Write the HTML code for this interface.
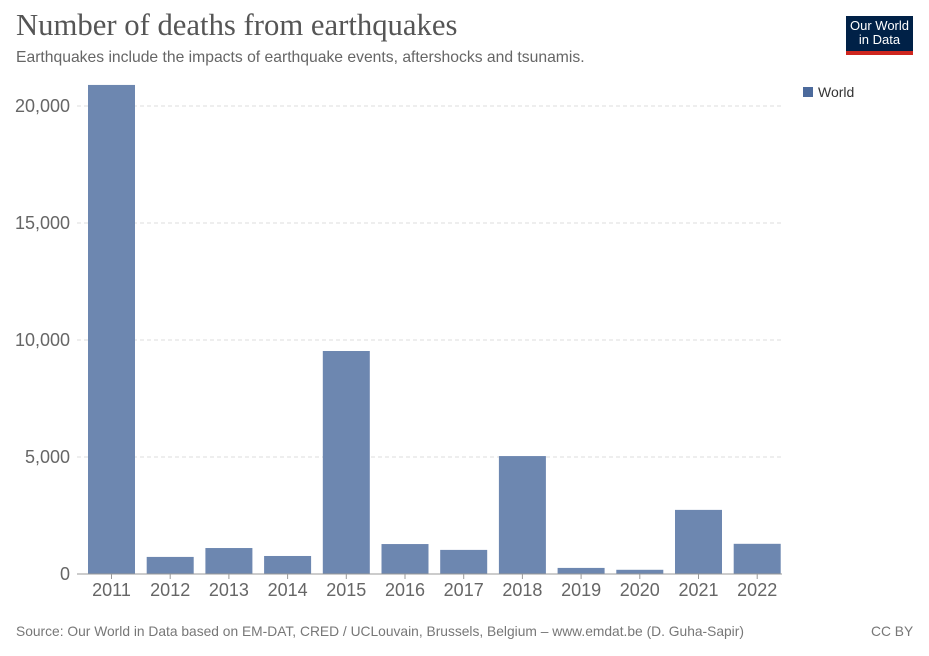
<!DOCTYPE html>
<html><head><meta charset="utf-8"><style>
body{margin:0;width:929px;height:656px;background:#fff;font-family:"Liberation Sans",sans-serif;overflow:hidden;position:relative}
.t{position:absolute;white-space:nowrap}
</style></head><body>
<div class="t" style="left:16px;top:8px;font-family:'Liberation Serif',serif;font-size:30.7px;color:#555">Number of deaths from earthquakes</div>
<div class="t" style="left:16px;top:49px;font-size:15.7px;color:#666">Earthquakes include the impacts of earthquake events, aftershocks and tsunamis.</div>
<div class="t" style="left:846px;top:16px;width:67px;height:39px;background:#002147;color:#fff;font-size:13px;line-height:14px;text-align:center;box-sizing:border-box;padding-top:3px;border-bottom:4px solid #ce261e">Our World<br>in Data</div>
<div class="t" style="left:16px;top:624px;font-size:13.8px;color:#777">Source: Our World in Data based on EM-DAT, CRED / UCLouvain, Brussels, Belgium – www.emdat.be (D. Guha-Sapir)</div>
<div class="t" style="left:871px;top:624px;font-size:13.8px;color:#777">CC BY</div>
<svg id="c" width="929" height="656" style="position:absolute;left:0;top:0"></svg>
<script>
const years=["2011","2012","2013","2014","2015","2016","2017","2018","2019","2020","2021","2022"];
const deaths=[20900,730,1110,770,9530,1280,1030,5040,260,180,2740,1290];
const yTicks=[0,5000,10000,15000,20000];
const yTickLabels=["0","5,000","10,000","15,000","20,000"];
const svg=document.getElementById('c');const NS="http://www.w3.org/2000/svg";
const y0=574,pxPer=117/5000,x0=82,pitch=58.7,bw=47;
const y=v=>y0-v*pxPer;const x=i=>x0+6+i*pitch;
function mk(t,a){const e=document.createElementNS(NS,t);for(const k in a)e.setAttribute(k,a[k]);svg.appendChild(e);return e;}
yTicks.forEach((v,i)=>{
 if(v>0){const g=mk('line',{x1:77,x2:782,y1:y(v),y2:y(v),stroke:'#ddd','stroke-dasharray':'4,3'});
 }
 const t=mk('text',{x:70,y:y(v)+6,'text-anchor':'end','font-size':18,fill:'#666','font-family':'Liberation Sans'});
 t.textContent=yTickLabels[i];
 
});
deaths.forEach((v,i)=>{
 const r=mk('rect',{x:x(i),y:y(v),width:bw,height:y0-y(v),fill:'#6d87b0'});
 
 const tk=mk('line',{x1:x(i)+bw/2,x2:x(i)+bw/2,y1:y0,y2:y0+5,stroke:'#999'});
 
 const t=mk('text',{x:x(i)+bw/2,y:y0+22,'text-anchor':'middle','font-size':18,fill:'#666','font-family':'Liberation Sans'});
 t.textContent=years[i];
 
});
const ax=mk('line',{x1:77,x2:782,y1:y0,y2:y0,stroke:'#999'});

const ls=mk('rect',{x:803,y:87,width:10,height:10,fill:'#4c6a9c'});

const lt=mk('text',{x:818,y:97,'font-size':14,fill:'#333','font-family':'Liberation Sans'});
lt.textContent='World';

</script>
</body></html>
